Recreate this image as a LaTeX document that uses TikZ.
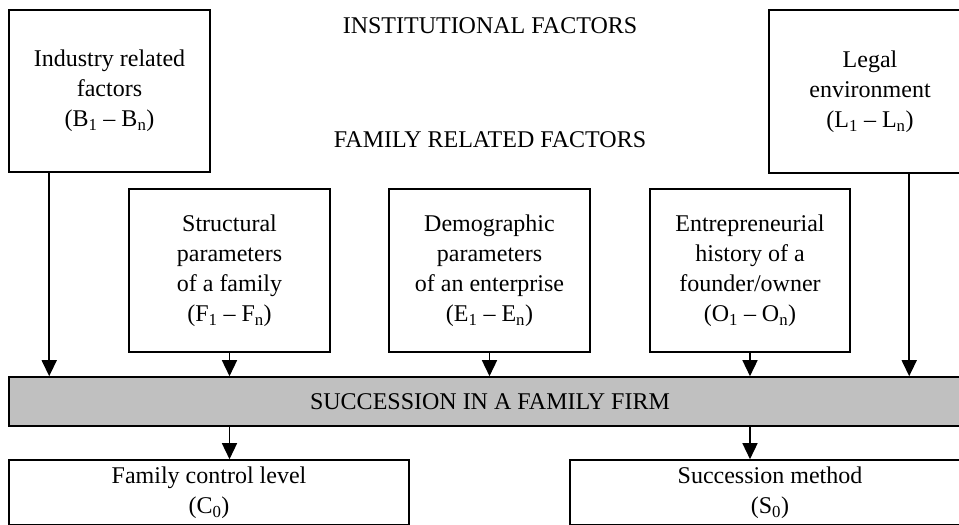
\documentclass[tikz,border=0pt]{standalone}
\usepackage{fontspec}
\setmainfont{Liberation Serif}
\usetikzlibrary{arrows.meta,calc}
\definecolor{bargray}{HTML}{C0C0C0}
\begin{document}
\begin{tikzpicture}[x=1pt,y=-1pt,
  box/.style={draw=black, line width=1.6pt, rectangle, inner sep=0pt, align=center, font=\fontsize{24}{30}\selectfont},
  lbl/.style={inner sep=0pt, font=\fontsize{24}{30}\selectfont},
  arr/.style={line width=1.5pt, -{Triangle[width=15pt,length=16pt]}}
]
\useasboundingbox (0,0) rectangle (959,525);
% top boxes
\node[box, minimum width=201pt, minimum height=162pt] (ind) at (109.5,91) {Industry related\\factors\\(B\textsubscript{1} – B\textsubscript{n})};
\node[box, minimum width=202pt, minimum height=163pt] (leg) at (870,91.5) {Legal\\environment\\(L\textsubscript{1} – L\textsubscript{n})};
% titles
\node[lbl] (inst) at (490,26) {INSTITUTIONAL FACTORS};
\node[lbl] (fam) at (490,140) {FAMILY RELATED FACTORS};
% family factor boxes
\node[box, minimum width=201pt, minimum height=163pt] (str) at (229.5,270.5) {Structural\\parameters\\of a family\\(F\textsubscript{1} – F\textsubscript{n})};
\node[box, minimum width=201pt, minimum height=163pt] (dem) at (489.5,270.5) {Demographic\\parameters\\of an enterprise\\(E\textsubscript{1} – E\textsubscript{n})};
\node[box, minimum width=200pt, minimum height=163pt] (ent) at (750,270.5) {Entrepreneurial\\history of a\\founder/owner\\(O\textsubscript{1} – O\textsubscript{n})};
% bar
\node[box, fill=bargray, minimum width=962pt, minimum height=49pt] (bar) at (490,401.5) {SUCCESSION IN A FAMILY FIRM};
% lower boxes
\node[box, minimum width=400pt, minimum height=65pt] (ctl) at (209,492.5) {Family control level\\(C\textsubscript{0})};
\node[box, minimum width=400pt, minimum height=65pt] (met) at (770,492.5) {Succession method\\(S\textsubscript{0})};
% arrows
\coordinate (indout) at ($(ind.south west)+(41,0)$);
\coordinate (legout) at ($(leg.south west)+(141,0)$);
\draw[arr] (indout) -- (indout |- bar.north);
\draw[arr] (legout) -- (legout |- bar.north);
\draw[arr] (str.south) -- (str.south |- bar.north);
\draw[arr] (dem.south) -- (dem.south |- bar.north);
\draw[arr] (ent.south) -- (ent.south |- bar.north);
\draw[arr] (str.south |- bar.south) -- (str.south |- ctl.north);
\draw[arr] (ent.south |- bar.south) -- (ent.south |- met.north);
\end{tikzpicture}
\end{document}
